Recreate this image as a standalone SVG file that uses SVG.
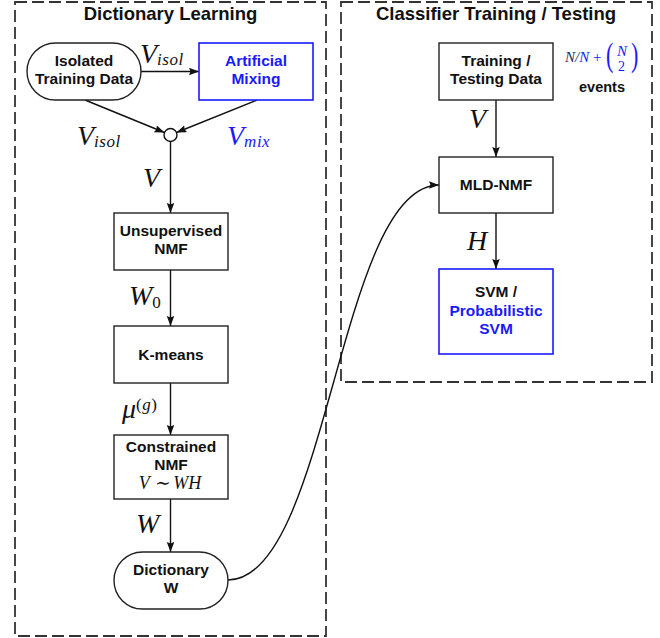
<svg xmlns="http://www.w3.org/2000/svg" width="660" height="638" viewBox="0 0 660 638">
  <defs>
    <marker id="arrow" markerUnits="userSpaceOnUse" markerWidth="11" markerHeight="8" refX="10" refY="3.75" orient="auto">
      <path d="M0,0 L10,3.75 L0,7.5 L1.5,3.75 z" fill="#111"/>
    </marker>
    <style>
      .frame { fill: none; stroke: #333; stroke-width: 1.8; stroke-dasharray: 12 5; }
      .box { fill: #fff; stroke: #222; stroke-width: 1.4; }
      .blue-box { fill: #fff; stroke: #1a1aff; stroke-width: 1.6; }
      .title { font-family: "Liberation Sans", Arial, sans-serif; font-weight: bold; font-size: 18.5px; fill: #111; text-anchor: middle; }
      .lbl { font-family: "Liberation Sans", Arial, sans-serif; font-weight: bold; font-size: 15.5px; fill: #111; text-anchor: middle; }
      .math { font-family: "Liberation Serif", "Times New Roman", serif; font-style: italic; font-size: 28px; fill: #111; }
      .sub { font-size: 17px; letter-spacing: 0.5px; }
      .small-math { font-size: 18px; }
      .edge { fill: none; stroke: #111; stroke-width: 1.4; }
      .blue { fill: #1a1aff; }
    </style>
  </defs>

  <rect width="660" height="638" fill="#fff"/>

  <!-- frames -->
  <g id="frame-dictionary">
    <rect class="frame" x="15" y="2" width="311" height="634"/>
    <text class="title" x="170.5" y="20">Dictionary Learning</text>
  </g>
  <g id="frame-classifier">
    <rect class="frame" x="341" y="2" width="311" height="380"/>
    <text class="title" x="496" y="20">Classifier Training / Testing</text>
  </g>

  <!-- connectors -->
  <g id="connectors">
    <path class="edge" d="M141,71.5 L199,71.5" marker-end="url(#arrow)"/>
    <path class="edge" d="M85,100 L164.5,132.5" marker-end="url(#arrow)"/>
    <path class="edge" d="M257,100 L176.5,132.5" marker-end="url(#arrow)"/>
    <path class="edge" d="M170.5,141.5 L170.5,213" marker-end="url(#arrow)"/>
    <path class="edge" d="M170.5,270 L170.5,326" marker-end="url(#arrow)"/>
    <path class="edge" d="M170.5,383 L170.5,435" marker-end="url(#arrow)"/>
    <path class="edge" d="M170.5,499 L170.5,552" marker-end="url(#arrow)"/>
    <path class="edge" d="M228,580 C328,580 339,185 439,185" marker-end="url(#arrow)"/>
    <path class="edge" d="M496,100 L496,157" marker-end="url(#arrow)"/>
    <path class="edge" d="M496,213 L496,269" marker-end="url(#arrow)"/>

    <!-- edge labels -->
    <text class="math" x="140" y="63">V<tspan class="sub" dy="2">isol</tspan></text>
    <text class="math" x="77" y="145">V<tspan class="sub" dy="2">isol</tspan></text>
    <text class="math blue" x="227" y="145">V<tspan class="sub" dy="2">mix</tspan></text>
    <text class="math" x="143" y="187">V</text>
    <text class="math" x="129" y="305">W<tspan class="sub" font-style="normal" dy="3">0</tspan></text>
    <text class="math" x="122" y="418">μ<tspan class="sub" font-style="normal" dy="-8">(</tspan><tspan class="sub">g</tspan><tspan class="sub" font-style="normal">)</tspan></text>
    <text class="math" x="136" y="533">W</text>
    <text class="math" x="469" y="128">V</text>
    <text class="math" x="467" y="250">H</text>
  </g>

  <!-- dictionary learning nodes -->
  <g id="isolated-training-data">
    <rect class="box" x="27" y="43" width="114" height="57" rx="28.5"/>
    <text class="lbl" x="84" y="66">Isolated</text>
    <text class="lbl" x="84" y="84">Training Data</text>
  </g>
  <g id="artificial-mixing">
    <rect class="blue-box" x="199" y="43" width="114" height="57"/>
    <text class="lbl blue" x="256" y="66">Artificial</text>
    <text class="lbl blue" x="256" y="84">Mixing</text>
  </g>
  <g id="sum-junction">
    <circle cx="170.5" cy="135" r="6.5" fill="#fff" stroke="#111" stroke-width="1.4"/>
  </g>
  <g id="unsupervised-nmf">
    <rect class="box" x="114" y="213" width="114" height="57"/>
    <text class="lbl" x="171" y="236">Unsupervised</text>
    <text class="lbl" x="171" y="254">NMF</text>
  </g>
  <g id="k-means">
    <rect class="box" x="114" y="326" width="114" height="57"/>
    <text class="lbl" x="171" y="360">K-means</text>
  </g>
  <g id="constrained-nmf">
    <rect class="box" x="114" y="435" width="114" height="64"/>
    <text class="lbl" x="171" y="452">Constrained</text>
    <text class="lbl" x="171" y="470">NMF</text>
    <text class="math small-math" x="170" y="489" text-anchor="middle">V ∼ WH</text>
  </g>
  <g id="dictionary-w">
    <rect class="box" x="114" y="552" width="114" height="57" rx="28.5"/>
    <text class="lbl" x="171" y="575">Dictionary</text>
    <text class="lbl" x="171" y="593">W</text>
  </g>

  <!-- classifier nodes -->
  <g id="training-testing-data">
    <rect class="box" x="439" y="43" width="114" height="57"/>
    <text class="lbl" x="496" y="66">Training /</text>
    <text class="lbl" x="496" y="84">Testing Data</text>
  </g>
  <g id="event-count">
    <text font-family="Liberation Serif, 'Times New Roman', serif" font-style="italic" font-size="15" x="565" y="62"><tspan fill="#2a2a66">N/</tspan><tspan fill="#1a1aff">N </tspan><tspan fill="#1a1aff" font-style="normal">+</tspan></text>
    <text font-family="Liberation Serif, 'Times New Roman', serif" font-size="34" fill="#1a1aff" transform="translate(606,66) scale(0.65,1)">(</text>
    <text font-family="Liberation Serif, 'Times New Roman', serif" font-size="34" fill="#1a1aff" transform="translate(631,66) scale(0.65,1)">)</text>
    <text font-family="Liberation Serif, 'Times New Roman', serif" font-style="italic" font-size="15" fill="#1a1aff" x="622" y="56" text-anchor="middle">N</text>
    <text font-family="Liberation Serif, 'Times New Roman', serif" font-size="14" fill="#1a1aff" x="621.5" y="71" text-anchor="middle">2</text>
    <text class="lbl" x="602" y="92" style="font-size:14.5px">events</text>
  </g>
  <g id="mld-nmf">
    <rect class="box" x="439" y="157" width="114" height="56"/>
    <text class="lbl" x="496" y="190">MLD-NMF</text>
  </g>
  <g id="svm">
    <rect class="blue-box" x="439" y="269" width="114" height="85"/>
    <text class="lbl" x="496" y="297">SVM /</text>
    <text class="lbl blue" x="496" y="316">Probabilistic</text>
    <text class="lbl blue" x="496" y="334">SVM</text>
  </g>
</svg>
